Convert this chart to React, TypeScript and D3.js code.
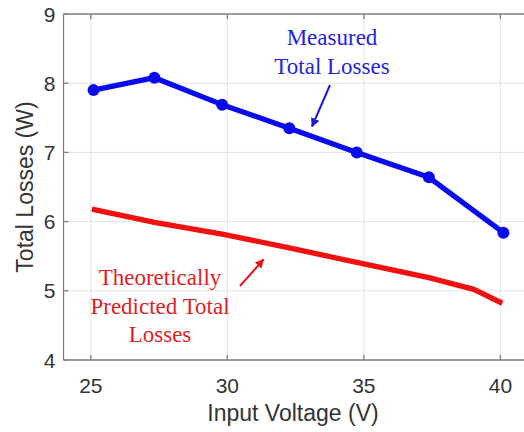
import React, { useEffect, useRef } from "react";
import * as d3 from "d3";

const measuredVoltage = [25.1, 27.33, 29.81, 32.27, 34.74, 37.38, 40.11];
const measuredLoss = [7.9, 8.08, 7.69, 7.35, 7.0, 6.64, 5.84];
const predictedVoltage = [25.04, 27.33, 29.81, 32.27, 34.74, 37.38, 39.03, 40.07];
const predictedLoss = [6.18, 5.99, 5.82, 5.62, 5.41, 5.19, 5.02, 4.82];
const xTicks = [25, 30, 35, 40];
const yTicks = [4, 5, 6, 7, 8, 9];
const measuredText = ["Measured", "Total Losses"];
const predictedText = ["Theoretically", "Predicted Total", "Losses"];

const W = 524;
const H = 432;
const M = { left: 63.5, top: 14, right: -3.7, bottom: 72 };

export default function App() {
  const ref = useRef<SVGSVGElement | null>(null);

  useEffect(() => {
    const svg = d3.select(ref.current);
    svg.selectAll("*").remove();

    const x = d3.scaleLinear().domain([24, 41]).range([M.left, W - M.right]);
    const y = d3.scaleLinear().domain([4, 9]).range([H - M.bottom, M.top]);
    const sans = "'Liberation Sans', Arial, sans-serif";
    const serif = "'Liberation Serif', 'Times New Roman', serif";
    const axisColor = "#808080";
    const x0 = x(24), x1 = x(41), y0 = y(4), y1 = y(9);

    svg.append("rect").attr("width", W).attr("height", H).attr("fill", "#fff");

    const grid = svg.append("g").attr("stroke", "#e3e3e3").attr("stroke-width", 1);
    xTicks.forEach((t) =>
      grid.append("line").attr("x1", x(t)).attr("x2", x(t)).attr("y1", y0).attr("y2", y1)
    );
    yTicks.forEach((t) =>
      grid.append("line").attr("x1", x0).attr("x2", x1).attr("y1", y(t)).attr("y2", y(t))
    );

    // Axes box with inward ticks
    const ax = svg.append("g").attr("stroke", axisColor).attr("stroke-width", 1.3).attr("fill", "none");
    ax.append("line").attr("x1", x0).attr("x2", x1).attr("y1", y0).attr("y2", y0);
    ax.append("line").attr("x1", x0).attr("x2", x1).attr("y1", y1).attr("y2", y1);
    ax.append("line").attr("x1", x0).attr("x2", x0).attr("y1", y0).attr("y2", y1);
    xTicks.forEach((t) => {
      ax.append("line").attr("x1", x(t)).attr("x2", x(t)).attr("y1", y0).attr("y2", y0 - 5);
      ax.append("line").attr("x1", x(t)).attr("x2", x(t)).attr("y1", y1).attr("y2", y1 + 5);
    });
    yTicks.forEach((t) =>
      ax.append("line").attr("x1", x0).attr("x2", x0 + 5).attr("y1", y(t)).attr("y2", y(t))
    );

    const labels = svg.append("g").attr("font-family", sans).attr("fill", "#333");
    xTicks.forEach((t) =>
      labels.append("text").attr("x", x(t)).attr("y", y0 + 33).attr("text-anchor", "middle")
        .attr("font-size", 21).text(t)
    );
    yTicks.forEach((t) =>
      labels.append("text").attr("x", x0 - 8).attr("y", y(t) + 7.5).attr("text-anchor", "end")
        .attr("font-size", 21).text(t)
    );
    labels.append("text").attr("x", 293).attr("y", 421).attr("text-anchor", "middle")
      .attr("font-size", 23).text("Input Voltage (V)");
    labels.append("text").attr("transform", `translate(33,${(y0 + y1) / 2}) rotate(-90)`)
      .attr("text-anchor", "middle").attr("font-size", 23).text("Total Losses (W)");

    const line = d3.line<[number, number]>().x((d) => x(d[0])).y((d) => y(d[1]));

    const predicted = predictedVoltage.map((v, i) => [v, predictedLoss[i]] as [number, number]);
    svg.append("path").attr("d", line(predicted)).attr("fill", "none").attr("stroke", "#f01010")
      .attr("stroke-width", 5.3).attr("stroke-linejoin", "round");

    const measured = measuredVoltage.map((v, i) => [v, measuredLoss[i]] as [number, number]);
    svg.append("path").attr("d", line(measured)).attr("fill", "none").attr("stroke", "#0a0aee")
      .attr("stroke-width", 5.3).attr("stroke-linejoin", "round");
    svg.append("g").selectAll("circle").data(measured).join("circle")
      .attr("cx", (d) => x(d[0])).attr("cy", (d) => y(d[1])).attr("r", 6).attr("fill", "#0a0aee");

    // Annotations
    const defs = svg.append("defs");
    const marker = (id: string, color: string) =>
      defs.append("marker").attr("id", id).attr("viewBox", "0 0 10 10").attr("refX", 9).attr("refY", 5)
        .attr("markerWidth", 4.5).attr("markerHeight", 4.5).attr("orient", "auto")
        .append("path").attr("d", "M0,0 L10,5 L0,10 z").attr("fill", color);
    marker("arrowBlue", "#1a1ad6");
    marker("arrowRed", "#e8141c");

    const mt = svg.append("g").attr("font-family", serif).attr("font-size", 23).attr("fill", "#2424dc")
      .attr("text-anchor", "middle");
    measuredText.forEach((s, i) => mt.append("text").attr("x", 332).attr("y", 45 + i * 29).text(s));
    svg.append("line").attr("x1", 330).attr("y1", 85).attr("x2", 312).attr("y2", 126.5)
      .attr("stroke", "#1a1ad6").attr("stroke-width", 2).attr("marker-end", "url(#arrowBlue)");

    const pt = svg.append("g").attr("font-family", serif).attr("font-size", 23).attr("fill", "#e01c24")
      .attr("text-anchor", "middle");
    predictedText.forEach((s, i) => pt.append("text").attr("x", 160).attr("y", 285 + i * 28.5).text(s));
    svg.append("line").attr("x1", 240).attr("y1", 286).attr("x2", 263.5).attr("y2", 259.5)
      .attr("stroke", "#e8141c").attr("stroke-width", 2).attr("marker-end", "url(#arrowRed)");
  }, []);

  return (
    <svg ref={ref} width={W} height={H}
      style={{ position: "absolute", left: 0, top: 0, display: "block" }} />
  );
}
